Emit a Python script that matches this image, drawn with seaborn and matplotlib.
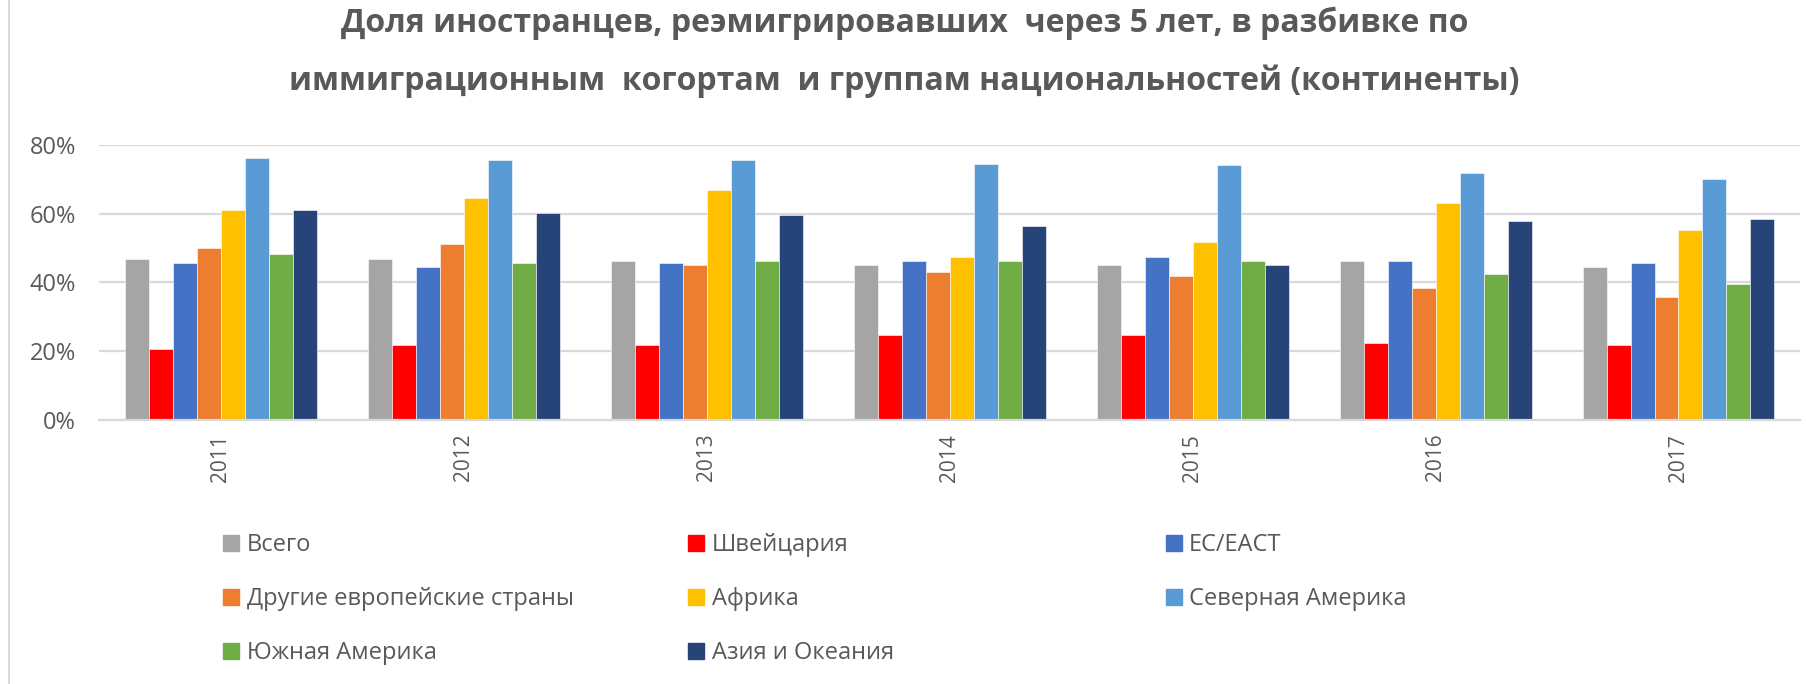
import pandas as pd
import seaborn as sns
import matplotlib.pyplot as plt
from matplotlib.ticker import PercentFormatter
from matplotlib.lines import Line2D

sns.set_style("white")
plt.rcParams['font.family'] = ['Open Sans', 'DejaVu Sans']

# Данные (доли)
years = ["2011", "2012", "2013", "2014", "2015", "2016", "2017"]
groups = ["Всего", "Швейцария", "ЕС/ЕАСТ", "Другие европейские страны",
          "Африка", "Северная Америка", "Южная Америка", "Азия и Океания"]

vsego = [0.468, 0.468, 0.462, 0.451, 0.451, 0.462, 0.446]
shveicaria = [0.207, 0.219, 0.219, 0.246, 0.246, 0.224, 0.219]
es_east = [0.457, 0.446, 0.457, 0.463, 0.473, 0.463, 0.457]
drugie_evr = [0.501, 0.512, 0.451, 0.430, 0.418, 0.385, 0.357]
afrika = [0.612, 0.645, 0.669, 0.473, 0.518, 0.630, 0.552]
sev_amerika = [0.763, 0.757, 0.757, 0.746, 0.741, 0.718, 0.702]
yuzh_amerika = [0.484, 0.457, 0.462, 0.463, 0.463, 0.424, 0.396]
aziya_okeaniya = [0.612, 0.602, 0.596, 0.563, 0.451, 0.580, 0.585]

series = [vsego, shveicaria, es_east, drugie_evr, afrika,
          sev_amerika, yuzh_amerika, aziya_okeaniya]
colors = ["#A5A5A5", "#FF0000", "#4472C4", "#ED7D31",
          "#FFC000", "#5B9BD5", "#70AD47", "#264478"]

rows = []
for g, vals in zip(groups, series):
    for y, v in zip(years, vals):
        rows.append({"year": y, "group": g, "value": v})
df = pd.DataFrame(rows)

text_color = "#595959"

fig = plt.figure(figsize=(18.09, 6.84), dpi=100)
ax = fig.add_axes([0.055, 0.386, 0.94, 0.402])

sns.barplot(data=df, x="year", y="value", hue="group", hue_order=groups,
            order=years, palette=colors, width=0.79, saturation=1,
            edgecolor="white", linewidth=0.4, legend=False, ax=ax)

ax.set_ylim(0, 0.8)
ax.set_yticks([0, 0.2, 0.4, 0.6, 0.8])
ax.yaxis.set_major_formatter(PercentFormatter(1.0, decimals=0))
ax.grid(axis="y", color="#D9D9D9", linewidth=1.6)
ax.set_axisbelow(True)
for s in ["top", "right", "left"]:
    ax.spines[s].set_visible(False)
ax.spines["bottom"].set_color("#D9D9D9")
ax.spines["bottom"].set_linewidth(1.6)
ax.set_xlabel("")
ax.set_ylabel("")
ax.tick_params(axis="x", labelrotation=90, labelsize=15, colors=text_color,
               length=0, pad=10)
ax.tick_params(axis="y", labelsize=17, colors=text_color, length=0, pad=17)

fig.suptitle("Доля иностранцев, реэмигрировавших  через 5 лет, в разбивке по\n"
             "иммиграционным  когортам  и группам национальностей (континенты)",
             fontsize=23, fontweight="bold", color=text_color, y=0.99,
             linespacing=1.95)

# Легенда: три колонки одинаковой ширины, порядок по строкам
col_x = [0.124, 0.381, 0.645]
for c, x in enumerate(col_x):
    idx = list(range(c, len(groups), 3))
    handles = [Line2D([0], [0], marker="s", linestyle="", markersize=11,
                      markerfacecolor=colors[i], markeredgecolor=colors[i])
               for i in idx]
    leg = fig.legend(handles, [groups[i] for i in idx], loc="upper left",
                     bbox_to_anchor=(x, 0.221), frameon=False, fontsize=17,
                     labelcolor=text_color, handlelength=0.6,
                     handletextpad=0.35, labelspacing=1.28, borderpad=0,
                     borderaxespad=0)

fig.add_artist(Line2D([0.005, 0.005], [0, 1], color="#D9D9D9",
                      linewidth=1.5, transform=fig.transFigure))

plt.savefig("out.png", dpi=100)
plt.close()
